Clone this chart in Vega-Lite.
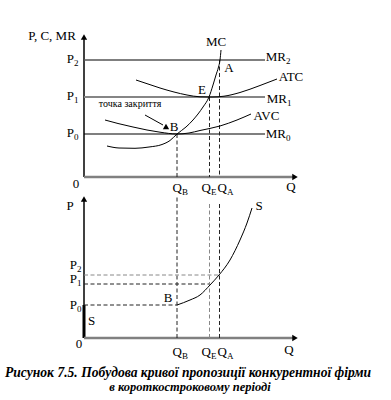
{
  "$schema": "https://vega.github.io/schema/vega-lite/v6.json",
  "width": 391,
  "height": 400,
  "autosize": {"type": "fit", "contains": "padding"},
  "padding": 0,
  "background": "white",
  "config": {"view": {"stroke": null}, "text": {"font": "Times New Roman, Liberation Serif, serif"}},
  "datasets": {
    "topCurves": [
      {"c": "MC", "q": 2.3, "p": 3.1}, {"c": "MC", "q": 3.5, "p": 2.9}, {"c": "MC", "q": 5.1, "p": 2.87},
      {"c": "MC", "q": 6.5, "p": 3.0}, {"c": "MC", "q": 7.8, "p": 3.25}, {"c": "MC", "q": 8.6, "p": 3.65},
      {"c": "MC", "q": 9.3, "p": 4.3}, {"c": "MC", "q": 10.2, "p": 5.0}, {"c": "MC", "q": 10.9, "p": 5.7},
      {"c": "MC", "q": 11.9, "p": 7.0}, {"c": "MC", "q": 12.5, "p": 8.0}, {"c": "MC", "q": 12.9, "p": 9.2},
      {"c": "MC", "q": 13.2, "p": 10.2}, {"c": "MC", "q": 13.45, "p": 11.0}, {"c": "MC", "q": 13.6, "p": 11.7},
      {"c": "MC", "q": 13.7, "p": 12.7},
      {"c": "ATC", "q": 5.2, "p": 9.7}, {"c": "ATC", "q": 6.4, "p": 9.3}, {"c": "ATC", "q": 7.6, "p": 8.9},
      {"c": "ATC", "q": 9.0, "p": 8.5}, {"c": "ATC", "q": 10.3, "p": 8.2}, {"c": "ATC", "q": 11.6, "p": 8.02},
      {"c": "ATC", "q": 12.8, "p": 8.0}, {"c": "ATC", "q": 14.0, "p": 8.08}, {"c": "ATC", "q": 15.6, "p": 8.45},
      {"c": "ATC", "q": 17.6, "p": 9.15}, {"c": "ATC", "q": 19.3, "p": 9.8},
      {"c": "AVC", "q": 2.1, "p": 5.7}, {"c": "AVC", "q": 3.4, "p": 5.35}, {"c": "AVC", "q": 4.9, "p": 5.0},
      {"c": "AVC", "q": 6.3, "p": 4.7}, {"c": "AVC", "q": 7.6, "p": 4.48}, {"c": "AVC", "q": 9.3, "p": 4.3},
      {"c": "AVC", "q": 10.5, "p": 4.4}, {"c": "AVC", "q": 11.6, "p": 4.65}, {"c": "AVC", "q": 13.6, "p": 5.1},
      {"c": "AVC", "q": 15.3, "p": 5.7}, {"c": "AVC", "q": 16.7, "p": 6.3}
    ],
    "topSegs": [
      {"k": "ax", "q": 0, "p": 0, "q2": 0, "p2": 13.8},
      {"k": "axg", "q": 0, "p": 0, "q2": 21.0, "p2": 0},
      {"k": "mr2", "q": 0, "p": 11.7, "q2": 18.1, "p2": 11.7},
      {"k": "mr1", "q": 0, "p": 8.0, "q2": 18.1, "p2": 8.0},
      {"k": "mr0", "q": 0, "p": 4.3, "q2": 18.1, "p2": 4.3},
      {"k": "d", "q": 9.3, "p": 4.3, "q2": 9.3, "p2": 0},
      {"k": "d", "q": 12.55, "p": 8.0, "q2": 12.55, "p2": 0},
      {"k": "d", "q": 13.55, "p": 11.7, "q2": 13.55, "p2": 0},
      {"k": "thin", "q": 6.1, "p": 6.2, "q2": 7.9, "p2": 5.2}
    ],
    "topArrows": [
      {"k": "up", "q": 0, "p": 14.0},
      {"k": "right", "q": 21.1, "p": 0},
      {"k": "up", "q": 8.2, "p": 5.05}
    ],
    "topText": [
      {"t": "P, C, MR", "q": -3.2, "p": 14.1},
      {"t": "0", "q": -0.8, "p": -0.7},
      {"t": "Q", "q": 20.7, "p": -1.0},
      {"t": "MC", "q": 13.2, "p": 13.5},
      {"t": "A", "q": 14.5, "p": 10.9},
      {"t": "E", "q": 11.8, "p": 8.7},
      {"t": "B", "q": 9.0, "p": 5.0},
      {"t": "ATC", "q": 20.7, "p": 10.0},
      {"t": "AVC", "q": 18.25, "p": 6.1}
    ],
    "topSmall": [
      {"t": "точка закриття", "q": 4.6, "p": 7.3}
    ],
    "topSub": [
      {"t": "P", "s": "2", "q": -1.0, "p": 11.8},
      {"t": "P", "s": "1", "q": -1.0, "p": 8.1},
      {"t": "P", "s": "0", "q": -1.0, "p": 4.4},
      {"t": "MR", "s": "2", "q": 20.2, "p": 12.0},
      {"t": "MR", "s": "1", "q": 20.3, "p": 7.8},
      {"t": "MR", "s": "0", "q": 20.2, "p": 4.3},
      {"t": "Q", "s": "B", "q": 9.8, "p": -1.1},
      {"t": "Q", "s": "E", "q": 12.7, "p": -1.1},
      {"t": "Q", "s": "A", "q": 14.3, "p": -1.1}
    ],
    "botCurve": [
      {"q": 9.3, "p": 3.3}, {"q": 10.6, "p": 3.8}, {"q": 11.6, "p": 4.3}, {"q": 12.6, "p": 5.3},
      {"q": 13.5, "p": 6.3}, {"q": 14.6, "p": 7.8}, {"q": 15.6, "p": 9.8}, {"q": 16.3, "p": 11.5},
      {"q": 16.8, "p": 13.0}
    ],
    "botSegs": [
      {"k": "ax", "q": 0, "p": 0, "q2": 0, "p2": 13.7},
      {"k": "thick", "q": 0, "p": 0, "q2": 0, "p2": 3.3},
      {"k": "axg", "q": 0, "p": 0, "q2": 21.0, "p2": 0},
      {"k": "d", "q": 0, "p": 3.3, "q2": 9.3, "p2": 3.3},
      {"k": "d", "q": 0, "p": 5.4, "q2": 12.55, "p2": 5.4},
      {"k": "dg", "q": 0, "p": 6.3, "q2": 13.55, "p2": 6.3},
      {"k": "d", "q": 9.3, "p": 0, "q2": 9.3, "p2": 14.3},
      {"k": "dg", "q": 12.55, "p": 0, "q2": 12.55, "p2": 13.5},
      {"k": "d", "q": 13.55, "p": 0, "q2": 13.55, "p2": 13.5}
    ],
    "botArrows": [
      {"k": "up", "q": 0, "p": 13.9},
      {"k": "right", "q": 21.1, "p": 0}
    ],
    "botText": [
      {"t": "P", "q": -1.4, "p": 13.2},
      {"t": "0", "q": -0.5, "p": -0.6},
      {"t": "Q", "q": 20.5, "p": -1.2},
      {"t": "S", "q": 17.5, "p": 13.2},
      {"t": "S", "q": 0.75, "p": 1.75},
      {"t": "B", "q": 8.4, "p": 4.0}
    ],
    "botSub": [
      {"t": "P", "s": "2", "q": -0.7, "p": 7.3},
      {"t": "P", "s": "1", "q": -0.7, "p": 5.95},
      {"t": "P", "s": "0", "q": -0.7, "p": 3.35},
      {"t": "Q", "s": "B", "q": 9.8, "p": -1.4},
      {"t": "Q", "s": "E", "q": 12.7, "p": -1.4},
      {"t": "Q", "s": "A", "q": 14.3, "p": -1.4}
    ],
    "caption": [
      {"n": 1, "t": "Рисунок 7.5. Побудова кривої пропозиції конкурентної фірми", "q": 10.4, "p": -3.45},
      {"n": 2, "t": "в короткостроковому періоді", "q": 10.6, "p": -4.85}
    ]
  },
  "resolve": {"scale": {"y": "independent"}},
  "layer": [
    {
      "encoding": {
        "x": {"field": "q", "type": "quantitative", "scale": {"domain": [-8.4, 30.7], "nice": false, "zero": false}, "axis": null},
        "y": {"field": "p", "type": "quantitative", "scale": {"domain": [-22.3, 17.7], "nice": false, "zero": false}, "axis": null}
      },
      "layer": [
        {"data": {"name": "topSegs"}, "transform": [{"filter": "datum.k === 'ax'"}], "mark": {"type": "rule", "color": "#000000", "strokeWidth": 1.5}, "encoding": {"x2": {"field": "q2"}, "y2": {"field": "p2"}}},
        {"data": {"name": "topSegs"}, "transform": [{"filter": "datum.k === 'axg'"}], "mark": {"type": "rule", "color": "#808080", "strokeWidth": 2.5}, "encoding": {"x2": {"field": "q2"}, "y2": {"field": "p2"}}},
        {"data": {"name": "topSegs"}, "transform": [{"filter": "datum.k === 'mr2'"}], "mark": {"type": "rule", "color": "#555555", "strokeWidth": 1.3}, "encoding": {"x2": {"field": "q2"}, "y2": {"field": "p2"}}},
        {"data": {"name": "topSegs"}, "transform": [{"filter": "datum.k === 'mr1'"}], "mark": {"type": "rule", "color": "#858585", "strokeWidth": 2}, "encoding": {"x2": {"field": "q2"}, "y2": {"field": "p2"}}},
        {"data": {"name": "topSegs"}, "transform": [{"filter": "datum.k === 'mr0'"}], "mark": {"type": "rule", "color": "#000000", "strokeWidth": 1.2}, "encoding": {"x2": {"field": "q2"}, "y2": {"field": "p2"}}},
        {"data": {"name": "topSegs"}, "transform": [{"filter": "datum.k === 'd'"}], "mark": {"type": "rule", "color": "#222222", "strokeWidth": 1, "strokeDash": [4, 2.5]}, "encoding": {"x2": {"field": "q2"}, "y2": {"field": "p2"}}},
        {"data": {"name": "topSegs"}, "transform": [{"filter": "datum.k === 'thin'"}], "mark": {"type": "rule", "color": "#000000", "strokeWidth": 1}, "encoding": {"x2": {"field": "q2"}, "y2": {"field": "p2"}}},
        {"data": {"name": "topCurves"}, "mark": {"type": "line", "interpolate": "monotone", "color": "#000000", "strokeWidth": 1}, "encoding": {"detail": {"field": "c"}}},
        {"data": {"name": "topArrows"}, "mark": {"type": "point", "filled": true, "color": "#000000", "opacity": 1, "size": 40}, "encoding": {"shape": {"field": "k", "type": "nominal", "scale": {"domain": ["up", "right"], "range": ["triangle-up", "triangle-right"]}, "legend": null}}},
        {"data": {"name": "topText"}, "mark": {"type": "text", "fontSize": 13, "align": "center", "baseline": "middle", "color": "#000000"}, "encoding": {"text": {"field": "t"}}},
        {"data": {"name": "topSmall"}, "mark": {"type": "text", "fontSize": 10, "align": "center", "baseline": "middle", "color": "#000000"}, "encoding": {"text": {"field": "t"}}},
        {"data": {"name": "topSub"}, "mark": {"type": "text", "fontSize": 13, "align": "right", "baseline": "middle", "color": "#000000"}, "encoding": {"text": {"field": "t"}}},
        {"data": {"name": "topSub"}, "mark": {"type": "text", "fontSize": 9, "align": "left", "baseline": "middle", "dy": 4, "color": "#000000"}, "encoding": {"text": {"field": "s"}}}
      ]
    },
    {
      "encoding": {
        "x": {"field": "q", "type": "quantitative", "scale": {"domain": [-8.4, 30.7], "nice": false, "zero": false}, "axis": null},
        "y": {"field": "p", "type": "quantitative", "scale": {"domain": [-6.2, 33.8], "nice": false, "zero": false}, "axis": null}
      },
      "layer": [
        {"data": {"name": "botSegs"}, "transform": [{"filter": "datum.k === 'ax'"}], "mark": {"type": "rule", "color": "#000000", "strokeWidth": 1.5}, "encoding": {"x2": {"field": "q2"}, "y2": {"field": "p2"}}},
        {"data": {"name": "botSegs"}, "transform": [{"filter": "datum.k === 'thick'"}], "mark": {"type": "rule", "color": "#000000", "strokeWidth": 3}, "encoding": {"x2": {"field": "q2"}, "y2": {"field": "p2"}}},
        {"data": {"name": "botSegs"}, "transform": [{"filter": "datum.k === 'axg'"}], "mark": {"type": "rule", "color": "#808080", "strokeWidth": 2.5}, "encoding": {"x2": {"field": "q2"}, "y2": {"field": "p2"}}},
        {"data": {"name": "botSegs"}, "transform": [{"filter": "datum.k === 'd'"}], "mark": {"type": "rule", "color": "#222222", "strokeWidth": 1, "strokeDash": [4, 2.5]}, "encoding": {"x2": {"field": "q2"}, "y2": {"field": "p2"}}},
        {"data": {"name": "botSegs"}, "transform": [{"filter": "datum.k === 'dg'"}], "mark": {"type": "rule", "color": "#888888", "strokeWidth": 1, "strokeDash": [4, 2.5]}, "encoding": {"x2": {"field": "q2"}, "y2": {"field": "p2"}}},
        {"data": {"name": "botCurve"}, "mark": {"type": "line", "interpolate": "monotone", "color": "#000000", "strokeWidth": 1}, "encoding": {}},
        {"data": {"name": "botArrows"}, "mark": {"type": "point", "filled": true, "color": "#000000", "opacity": 1, "size": 40}, "encoding": {"shape": {"field": "k", "type": "nominal", "scale": {"domain": ["up", "right"], "range": ["triangle-up", "triangle-right"]}, "legend": null}}},
        {"data": {"name": "botText"}, "mark": {"type": "text", "fontSize": 13, "align": "center", "baseline": "middle", "color": "#000000"}, "encoding": {"text": {"field": "t"}}},
        {"data": {"name": "botSub"}, "mark": {"type": "text", "fontSize": 13, "align": "right", "baseline": "middle", "color": "#000000"}, "encoding": {"text": {"field": "t"}}},
        {"data": {"name": "botSub"}, "mark": {"type": "text", "fontSize": 9, "align": "left", "baseline": "middle", "dy": 4, "color": "#000000"}, "encoding": {"text": {"field": "s"}}},
        {"data": {"name": "caption"}, "transform": [{"filter": "datum.n === 1"}], "mark": {"type": "text", "fontSize": 13.6, "fontStyle": "italic", "fontWeight": "bold", "align": "center", "baseline": "middle", "color": "#000000", "clip": true}, "encoding": {"text": {"field": "t"}}},
        {"data": {"name": "caption"}, "transform": [{"filter": "datum.n === 2"}], "mark": {"type": "text", "fontSize": 12.5, "fontStyle": "italic", "fontWeight": "bold", "align": "center", "baseline": "middle", "color": "#000000", "clip": true}, "encoding": {"text": {"field": "t"}}}
      ]
    }
  ]
}
